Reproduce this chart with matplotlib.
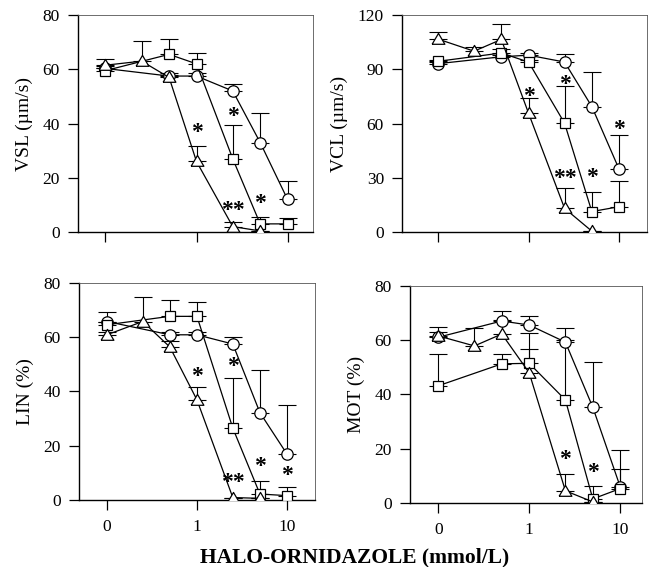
import numpy as np
import matplotlib
matplotlib.use('Agg')
import matplotlib.pyplot as plt

plt.rcParams['font.family'] = ['Liberation Serif', 'DejaVu Serif']

# doses (mmol/L); 0 is drawn at the 0.1 position of the log axis
dose6 = [0, 0.5, 1, 2.5, 5, 10]
dose_tri = [0, 0.25, 0.5, 1, 2.5, 5]

# VSL (um/s)
vsl_circ = [60.3, 57.5, 57.5, 52, 33, 12]
vsl_circ_sd = [1, 1, 1, 2.5, 11, 6.8]
vsl_sq = [59.5, 65.5, 62, 27, 3, 3]
vsl_sq_sd = [1, 5.6, 4, 12.4, 2.5, 2.3]
vsl_tri = [61.5, 63, 57, 26, 2, 0.4]
vsl_tri_sd = [2.3, 7.5, 1, 5.8, 1.8, 0]
vsl_stars = [(1, 38, '*'), (2.5, 44, '*'), (2.5, 9.5, '**'), (5, 12, '*')]

# VCL (um/s)
vcl_circ = [93.1, 96.9, 97.8, 94, 69.4, 34.8]
vcl_circ_sd = [1, 1, 1, 4.3, 19.1, 19.1]
vcl_sq = [94.4, 99, 94, 60.2, 11.3, 14]
vcl_sq_sd = [1, 2, 1, 20.4, 11.1, 14.3]
vcl_tri = [106.7, 100, 106.5, 65.7, 13.1, 0.5]
vcl_tri_sd = [4, 2.4, 8.5, 8.6, 11.5, 0]
vcl_stars = [(1, 77.4, '*'), (2.5, 83.5, '*'), (2.5, 31.7, '**'), (5, 32.6, '*'), (10, 58.9, '*')]

# LIN (%)
lin_circ = [65.8, 60.9, 60.9, 57.5, 32.2, 16.9]
lin_circ_sd = [3.4, 1, 1, 2.5, 15.8, 18.1]
lin_sq = [64.6, 67.7, 67.7, 26.5, 2.2, 1.6]
lin_sq_sd = [1, 6.1, 5.2, 18.4, 4.9, 3.3]
lin_tri = [60.9, 65.8, 56.4, 36.9, 0.9, 0.6]
lin_tri_sd = [1, 9, 2.1, 4.9, 0, 0]
lin_stars = [(1, 47, '*'), (2.5, 50.5, '*'), (2.5, 8, '**'), (5, 13.8, '*'), (10, 10.5, '*')]

# MOT (%)
mot_circ = [61.1, 67.1, 65.6, 59.3, 35.3, 6]
mot_circ_sd = [2, 3.8, 3.4, 5.3, 16.8, 13.4]
mot_sq = [43.2, 51.3, 51.5, 38, 1.5, 5.3]
mot_sq_sd = [11.8, 3.5, 11.3, 22, 4.6, 7.2]
mot_tri = [61.6, 57.9, 62.3, 48, 4.5, 0.4]
mot_tri_sd = [3.1, 6.5, 5.2, 8.8, 6.2, 0]
mot_stars = [(2.5, 17.4, '*'), (5, 12.6, '*')]

x_ticks = [0, 1, 10]
x_ticklabels = ['0', '1', '10']


def pos(d):
    d = np.asarray(d, dtype=float)
    return np.where(d == 0, 0.1, d)


# wide, slightly flat open triangle
tri_marker = [(-1, -0.75), (1, -0.75), (0, 0.95), (-1, -0.75)]

panels = [
    # rect, ylabel, ylim, yticks, xlim, data, stars, show x labels
    ([0.120, 0.5908, 0.3615, 0.3827], 'VSL (\u00b5m/s)', 80, [0, 20, 40, 60, 80], (0.05, 19),
     (vsl_circ, vsl_circ_sd, vsl_sq, vsl_sq_sd, vsl_tri, vsl_tri_sd), vsl_stars, False),
    ([0.6185, 0.5908, 0.377, 0.3827], 'VCL (\u00b5m/s)', 120, [0, 30, 60, 90, 120], (0.04, 20.4),
     (vcl_circ, vcl_circ_sd, vcl_sq, vcl_sq_sd, vcl_tri, vcl_tri_sd), vcl_stars, False),
    ([0.1215, 0.1182, 0.363, 0.3827], 'LIN (%)', 80, [0, 20, 40, 60, 80], (0.049, 20.4),
     (lin_circ, lin_circ_sd, lin_sq, lin_sq_sd, lin_tri, lin_tri_sd), lin_stars, True),
    ([0.6308, 0.1129, 0.357, 0.3827], 'MOT (%)', 80, [0, 20, 40, 60, 80], (0.049, 17.4),
     (mot_circ, mot_circ_sd, mot_sq, mot_sq_sd, mot_tri, mot_tri_sd), mot_stars, True),
]

fig = plt.figure(figsize=(6.5, 5.67), dpi=100)

for rect, ylab, ymax, yticks, xlim, data, stars, xlabels in panels:
    ax = fig.add_axes(rect)
    circ, circ_sd, sq, sq_sd, tri, tri_sd = data
    series = [
        (dose6, circ, circ_sd, 'o', 8.2),
        (dose6, sq, sq_sd, 's', 7.6),
        (dose_tri, tri, tri_sd, tri_marker, 9.2),
    ]
    for x, y, sd, mk, ms in series:
        ax.errorbar(pos(x), y, yerr=[np.zeros(len(sd)), sd], fmt='none',
                    ecolor='black', elinewidth=0.8, capsize=6.5, capthick=0.8, zorder=2)
        ax.plot(pos(x), y, marker=mk, ms=ms, mfc='white', mec='black', mew=0.9,
                color='black', lw=0.9, zorder=3)
    fs = 17
    for sx, sy, s in stars:
        ax.annotate(s, (pos(sx), sy), xytext=(0, -0.4 * fs), textcoords='offset points',
                    ha='center', va='baseline', fontsize=fs, fontweight='bold')

    ax.set_xscale('log')
    ax.set_xlim(*xlim)
    ax.set_ylim(0, ymax)
    ax.set_xticks(pos(x_ticks))
    ax.minorticks_off()
    if xlabels:
        ax.set_xticklabels(x_ticklabels)
    else:
        ax.set_xticklabels([])
    ax.set_yticks(yticks)
    ax.tick_params(axis='both', direction='out', length=7, width=0.9, labelsize=12.5, pad=6)
    ax.tick_params(axis='x', pad=7)
    ax.set_ylabel(ylab, fontsize=14, labelpad=7)
    for side in ['top', 'right']:
        ax.spines[side].set_linewidth(0.6)
        ax.spines[side].set_color('#555555')
    for side in ['left', 'bottom']:
        ax.spines[side].set_linewidth(1.0)

fig.text(0.545, 0.0088, 'HALO-ORNIDAZOLE (mmol/L)', ha='center', va='baseline',
         fontsize=15.5, fontweight='bold')

plt.savefig('out.png', dpi=100)
